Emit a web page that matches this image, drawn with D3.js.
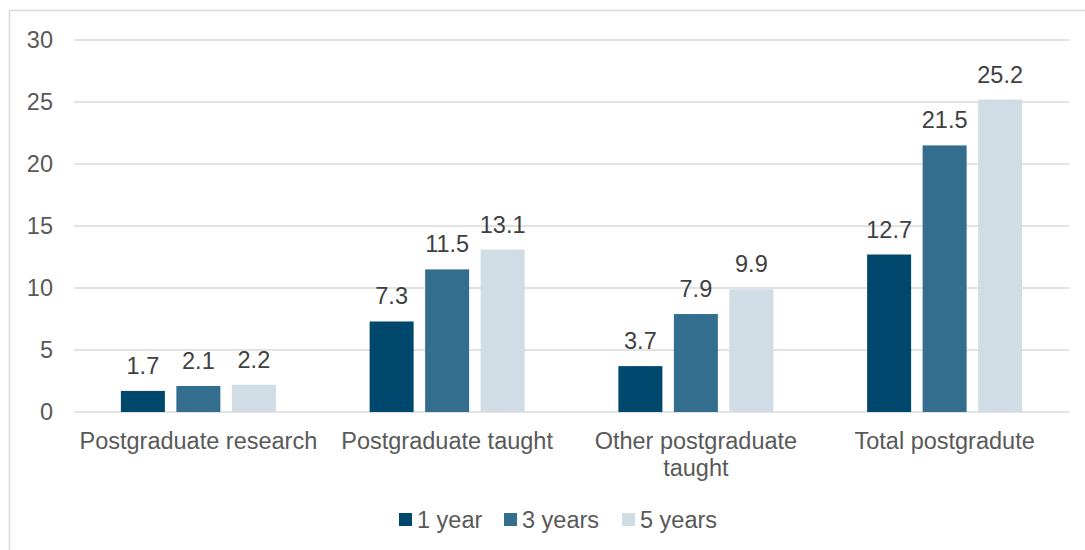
<!DOCTYPE html>
<html>
<head>
<meta charset="utf-8">
<script src="https://cdn.jsdelivr.net/npm/d3@7"></script>
<style>
  html, body { margin: 0; padding: 0; background: #fff; }
  svg { display: block; font-family: "Liberation Sans", Arial, sans-serif; }
</style>
</head>
<body>
<svg id="chart" width="1085" height="550"></svg>
<script>
/* ── Data ─────────────────────────────────────────────────────────────── */
const categories = [
  ['Postgraduate research'],
  ['Postgraduate taught'],
  ['Other postgraduate', 'taught'],
  ['Total postgradute']
];
const seriesNames = ['1 year', '3 years', '5 years'];
const oneYear   = [1.7, 7.3, 3.7, 12.7];
const threeYear = [2.1, 11.5, 7.9, 21.5];
const fiveYear  = [2.2, 13.1, 9.9, 25.2];
const yTicks    = [0, 5, 10, 15, 20, 25, 30];

const colors = ['#00476d', '#336e8f', '#d0dde5'];

/* ── Layout ───────────────────────────────────────────────────────────── */
const svg = d3.select('#chart');
const X0 = 74, X1 = 1069, Y0 = 412, Y1 = 40;
const FS = 23.5;

// outer frame (only left & top edges fall inside the picture)
svg.append('path')
  .attr('d', 'M9.5,560 V10.5 H1095')
  .attr('fill', 'none').attr('stroke', '#d9d9d9').attr('stroke-width', 1.5);

const idx = d3.range(categories.length);
const x = d3.scaleBand().domain(idx).range([X0, X1]).paddingInner(0).paddingOuter(0);
const y = d3.scaleLinear().domain([0, 30]).range([Y0, Y1]);
const bw = 44, step = 55.5;

// gridlines
svg.append('g').selectAll('line').data(yTicks).join('line')
  .attr('x1', X0).attr('x2', X1)
  .attr('y1', d => y(d)).attr('y2', d => y(d))
  .attr('stroke', '#d9d9d9').attr('stroke-width', 1.5);

// y tick labels
svg.append('g').selectAll('text').data(yTicks).join('text')
  .attr('x', 53).attr('y', d => y(d) + 8)
  .attr('text-anchor', 'end')
  .attr('font-size', FS).attr('fill', '#595959')
  .text(d => d);

// bars
const series = [oneYear, threeYear, fiveYear];
series.forEach((vals, s) => {
  const g = svg.append('g');
  const cx = i => x(i) + x.bandwidth() / 2 + (s - 1) * step;
  g.selectAll('rect').data(vals).join('rect')
    .attr('x', (d, i) => cx(i) - bw / 2)
    .attr('y', d => y(d))
    .attr('width', bw)
    .attr('height', d => Y0 - y(d))
    .attr('fill', colors[s]);
  g.selectAll('text').data(vals).join('text')
    .attr('x', (d, i) => cx(i))
    .attr('y', d => y(d) - 17)
    .attr('text-anchor', 'middle')
    .attr('font-size', FS).attr('fill', '#404040')
    .text(d => d.toFixed(1));
});

// category labels
const catG = svg.append('g');
categories.forEach((lines, i) => {
  const t = catG.append('text')
    .attr('x', x(i) + x.bandwidth() / 2)
    .attr('y', 449)
    .attr('text-anchor', 'middle')
    .attr('font-size', FS).attr('fill', '#595959');
  lines.forEach((ln, j) => {
    t.append('tspan').attr('x', x(i) + x.bandwidth() / 2)
      .attr('dy', j === 0 ? 0 : 27).text(ln);
  });
});

// legend
const legendX = [399, 504, 622];
const lg = svg.append('g');
seriesNames.forEach((name, s) => {
  lg.append('rect')
    .attr('x', legendX[s]).attr('y', 513)
    .attr('width', 13).attr('height', 13)
    .attr('fill', colors[s]);
  lg.append('text')
    .attr('x', legendX[s] + 18).attr('y', 528)
    .attr('font-size', FS).attr('fill', '#595959')
    .text(name);
});
</script>
</body>
</html>
